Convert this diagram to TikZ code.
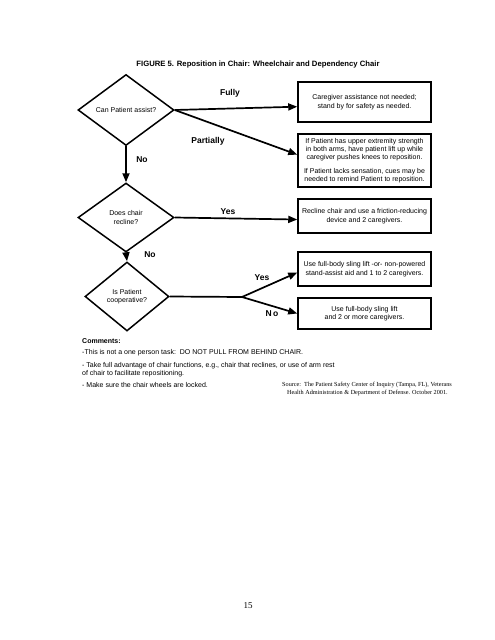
\documentclass[tikz,border=0pt]{standalone}
\usepackage{fontspec}
\setmainfont{Liberation Sans}
\newfontfamily\timesfont{Liberation Serif}
\usetikzlibrary{shapes.geometric,arrows.meta}

\begin{document}
\begin{tikzpicture}
        [x=1pt,y=-1pt,font=\fontsize{7}{8.4}\selectfont]
        \tikzstyle{decision}=[diamond, draw, line width=1.5pt, inner sep=0pt, align=center]
        \tikzstyle{action}=[rectangle, draw, line width=1.5pt, minimum width=133pt,
        inner sep=0pt, align=center]
        \tikzstyle{answer}=[font=\fontsize{8.5}{10}\selectfont\bfseries, inner sep=0pt]
        \tikzstyle{arr}=[line width=1.7pt, -{Triangle[length=9pt,width=7pt]}]
        \tikzstyle{comment}=[anchor=west, inner sep=0pt]

        \useasboundingbox (0,0) rectangle (495,640);

        %-----title
         \node[font=\fontsize{7.7}{9}\selectfont\bfseries] (title) at (258,65)
           {FIGURE 5. Reposition in Chair: Wheelchair and Dependency Chair};

        %-----decisions
         \node[decision, minimum width=96pt, minimum height=71pt] (assist) at (126,110) {Can Patient assist?};
         \node[decision, minimum width=96pt, minimum height=69pt] (recline) at (126,217.5) {Does chair\\recline?};
         \node[decision, minimum width=84pt, minimum height=69pt] (coop) at (127,296.5) {Is Patient\\cooperative?};
         \coordinate (fork) at (242,297);

        %-----actions
         \node[action, minimum height=40pt] (fully) at (364.5,102)
           {Caregiver assistance not needed;\\stand by for safety as needed.};
         \node[action, minimum height=53pt] (partly) at (364.5,160.5)
           {If Patient has upper extremity strength\\in both arms, have patient lift up while\\caregiver pushes knees to reposition.\\[5pt]
            If Patient lacks sensation, cues may be\\needed to remind Patient to reposition.};
         \node[action, minimum height=34pt] (tilt) at (364.5,216)
           {Recline chair and use a friction-reducing\\device and 2 caregivers.};
         \node[action, minimum height=34pt] (standaid) at (364.5,269)
           {Use full-body sling lift -or- non-powered\\stand-assist aid and 1 to 2 caregivers.};
         \node[action, minimum height=31pt] (sling) at (364.5,313.5)
           {Use full-body sling lift\\and 2 or more caregivers.};

        %-----answers
         \node[answer] (lfully) at (230,93) {Fully};
         \node[answer] (lpartly) at (208,141) {Partially};
         \node[answer] (lno1) at (142,160) {No};
         \node[answer] (lyes1) at (228,212) {Yes};
         \node[answer] (lno2) at (150,255) {No};
         \node[answer] (lyes2) at (262,278) {Yes};
         \node[answer] (lno3) at (272,314) {N\,o};

         \draw[line width=1.7pt] (coop.east) -- (fork);

         \foreach \from/\to in {assist.east/fully.184, assist.east/partly.175, assist.south/recline.north,
           recline.east/tilt.183, recline.south/coop.north, fork/standaid.183, fork/sling.west}
         \draw[arr] (\from) -- (\to);

        %-----comments
         \node[comment, font=\fontsize{7}{8.4}\selectfont\bfseries] (comhead) at (82,341) {Comments:};
         \node[comment] (com1) at (82,353) {-This is not a one person task:\ \ DO NOT PULL FROM BEHIND CHAIR.};
         \node[comment] (com2) at (82,366) {- Take full advantage of chair functions, e.g., chair that reclines, or use of arm rest};
         \node[comment] (com2b) at (82,374) {of chair to facilitate repositioning.};
         \node[comment] (com3) at (82,385) {- Make sure the chair wheels are locked.};
         \node[comment, font=\timesfont\fontsize{6.2}{8}\selectfont, align=left, anchor=north west] (source) at (282,382)
           {Source:\ \ The Patient Safety Center of Inquiry (Tampa, FL), Veterans\\
            \hspace{5pt}Health Administration \& Department of Defense. October 2001.};

         \node[font=\timesfont\fontsize{9}{11}\selectfont] (page) at (248,606) {15};

    % figure 5
        \end{tikzpicture}
\end{document}
